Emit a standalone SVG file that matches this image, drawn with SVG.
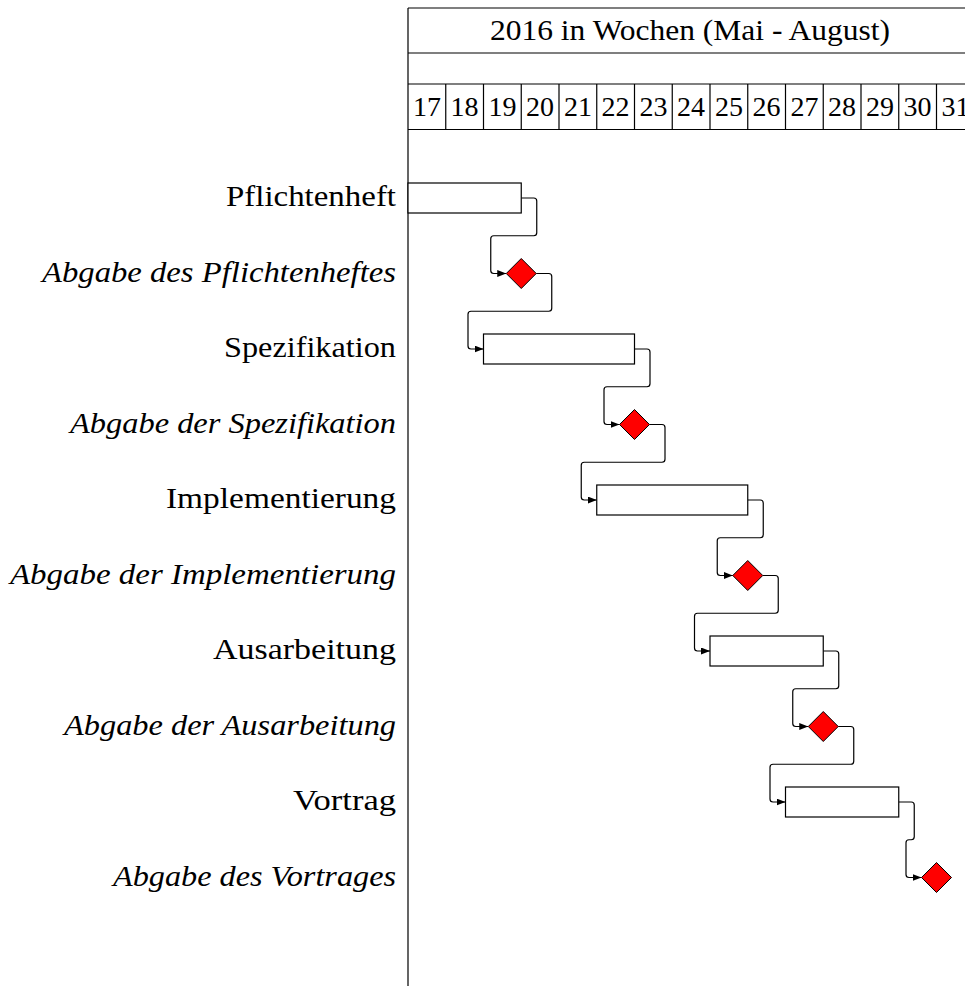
<svg xmlns="http://www.w3.org/2000/svg" width="965" height="986" viewBox="0 0 965 986">
<style>
text{font-family:'Liberation Serif','DejaVu Serif','Times New Roman',serif;font-size:29px;fill:#000}
.lbl{text-anchor:end}
.it{font-style:italic}
.wk{font-size:28px;text-anchor:middle}
.grid{stroke:#000;stroke-width:1.2;fill:none}
.bar{fill:#fff;stroke:#000;stroke-width:1.2}
.ms{fill:#ff0000;stroke:#000;stroke-width:1}
.lnk{fill:none;stroke:#000;stroke-width:1.2}
</style>
<defs>
<marker id="arr" markerUnits="userSpaceOnUse" markerWidth="10" markerHeight="7" refX="9" refY="3.5" orient="auto">
<path d="M0,0 L9,3.5 L0,7 z" fill="#000"/>
</marker>
</defs>
<g id="header" font-family="Liberation Serif, serif">
<path class="grid" d="M408,8 V986 M408,8 H975 M408,53 H975 M408,84 H975 M408,129.5 H975"/>
<path class="grid" d="M445.75,84 V129.5 M483.5,84 V129.5 M521.25,84 V129.5 M559,84 V129.5 M596.75,84 V129.5 M634.5,84 V129.5 M672.25,84 V129.5 M710,84 V129.5 M747.75,84 V129.5 M785.5,84 V129.5 M823.25,84 V129.5 M861,84 V129.5 M898.75,84 V129.5 M936.5,84 V129.5"/>
<text x="690" y="40" text-anchor="middle" textLength="400" lengthAdjust="spacingAndGlyphs">2016 in Wochen (Mai - August)</text>
<text class="wk" x="426.9" y="115.5">17</text>
<text class="wk" x="464.6" y="115.5">18</text>
<text class="wk" x="502.4" y="115.5">19</text>
<text class="wk" x="540.1" y="115.5">20</text>
<text class="wk" x="577.9" y="115.5">21</text>
<text class="wk" x="615.6" y="115.5">22</text>
<text class="wk" x="653.4" y="115.5">23</text>
<text class="wk" x="691.1" y="115.5">24</text>
<text class="wk" x="728.9" y="115.5">25</text>
<text class="wk" x="766.6" y="115.5">26</text>
<text class="wk" x="804.4" y="115.5">27</text>
<text class="wk" x="842.1" y="115.5">28</text>
<text class="wk" x="879.9" y="115.5">29</text>
<text class="wk" x="917.6" y="115.5">30</text>
<text class="wk" x="955.4" y="115.5">31</text>
</g>
<g id="labels" font-family="Liberation Serif, serif">
<text class="lbl" x="396" y="206" textLength="170" lengthAdjust="spacingAndGlyphs">Pflichtenheft</text>
<text class="lbl it" x="396" y="281.5" textLength="354" lengthAdjust="spacingAndGlyphs">Abgabe des Pflichtenheftes</text>
<text class="lbl" x="396" y="357" textLength="172" lengthAdjust="spacingAndGlyphs">Spezifikation</text>
<text class="lbl it" x="396" y="432.5" textLength="326" lengthAdjust="spacingAndGlyphs">Abgabe der Spezifikation</text>
<text class="lbl" x="396" y="508" textLength="230" lengthAdjust="spacingAndGlyphs">Implementierung</text>
<text class="lbl it" x="396" y="583.5" textLength="386" lengthAdjust="spacingAndGlyphs">Abgabe der Implementierung</text>
<text class="lbl" x="396" y="659" textLength="183" lengthAdjust="spacingAndGlyphs">Ausarbeitung</text>
<text class="lbl it" x="396" y="734.5" textLength="332" lengthAdjust="spacingAndGlyphs">Abgabe der Ausarbeitung</text>
<text class="lbl" x="396" y="810" textLength="103" lengthAdjust="spacingAndGlyphs">Vortrag</text>
<text class="lbl it" x="396" y="885.5" textLength="283" lengthAdjust="spacingAndGlyphs">Abgabe des Vortrages</text>
</g>
<g id="connectors">
<path class="lnk" marker-end="url(#arr)" d="M521.25,198 H533.75 Q536.75,198 536.75,201 V232.75 Q536.75,235.75 533.75,235.75 H493.75 Q490.75,235.75 490.75,238.75 V270.5 Q490.75,273.5 493.75,273.5 H506.25"/>
<path class="lnk" marker-end="url(#arr)" d="M536.25,273.5 H548.75 Q551.75,273.5 551.75,276.5 V308.25 Q551.75,311.25 548.75,311.25 H471 Q468,311.25 468,314.25 V346 Q468,349 471,349 H483.5"/>
<path class="lnk" marker-end="url(#arr)" d="M634.5,349 H647 Q650,349 650,352 V383.75 Q650,386.75 647,386.75 H607 Q604,386.75 604,389.75 V421.5 Q604,424.5 607,424.5 H619.5"/>
<path class="lnk" marker-end="url(#arr)" d="M649.5,424.5 H662 Q665,424.5 665,427.5 V459.25 Q665,462.25 662,462.25 H584.25 Q581.25,462.25 581.25,465.25 V497 Q581.25,500 584.25,500 H596.75"/>
<path class="lnk" marker-end="url(#arr)" d="M747.75,500 H760.25 Q763.25,500 763.25,503 V534.75 Q763.25,537.75 760.25,537.75 H720.25 Q717.25,537.75 717.25,540.75 V572.5 Q717.25,575.5 720.25,575.5 H732.75"/>
<path class="lnk" marker-end="url(#arr)" d="M762.75,575.5 H775.25 Q778.25,575.5 778.25,578.5 V610.25 Q778.25,613.25 775.25,613.25 H697.5 Q694.5,613.25 694.5,616.25 V648 Q694.5,651 697.5,651 H710"/>
<path class="lnk" marker-end="url(#arr)" d="M823.25,651 H835.75 Q838.75,651 838.75,654 V685.75 Q838.75,688.75 835.75,688.75 H795.75 Q792.75,688.75 792.75,691.75 V723.5 Q792.75,726.5 795.75,726.5 H808.25"/>
<path class="lnk" marker-end="url(#arr)" d="M838.25,726.5 H850.75 Q853.75,726.5 853.75,729.5 V761.25 Q853.75,764.25 850.75,764.25 H773 Q770,764.25 770,767.25 V799 Q770,802 773,802 H785.5"/>
<path class="lnk" marker-end="url(#arr)" d="M898.75,802 H911.25 Q914.25,802 914.25,805 V836.75 Q914.25,839.75 911.25,839.75 H909 Q906,839.75 906,842.75 V874.5 Q906,877.5 909,877.5 H921.5"/>
</g>
<g id="pflichtenheft"><rect class="bar" x="408" y="183" width="113.25" height="30"/></g>
<g id="abgabe-pflichtenheft"><polygon class="ms" points="521.25,258.5 536.25,273.5 521.25,288.5 506.25,273.5"/></g>
<g id="spezifikation"><rect class="bar" x="483.5" y="334" width="151" height="30"/></g>
<g id="abgabe-spezifikation"><polygon class="ms" points="634.5,409.5 649.5,424.5 634.5,439.5 619.5,424.5"/></g>
<g id="implementierung"><rect class="bar" x="596.75" y="485" width="151" height="30"/></g>
<g id="abgabe-implementierung"><polygon class="ms" points="747.75,560.5 762.75,575.5 747.75,590.5 732.75,575.5"/></g>
<g id="ausarbeitung"><rect class="bar" x="710" y="636" width="113.25" height="30"/></g>
<g id="abgabe-ausarbeitung"><polygon class="ms" points="823.25,711.5 838.25,726.5 823.25,741.5 808.25,726.5"/></g>
<g id="vortrag"><rect class="bar" x="785.5" y="787" width="113.25" height="30"/></g>
<g id="abgabe-vortrag"><polygon class="ms" points="936.5,862.5 951.5,877.5 936.5,892.5 921.5,877.5"/></g>
</svg>
